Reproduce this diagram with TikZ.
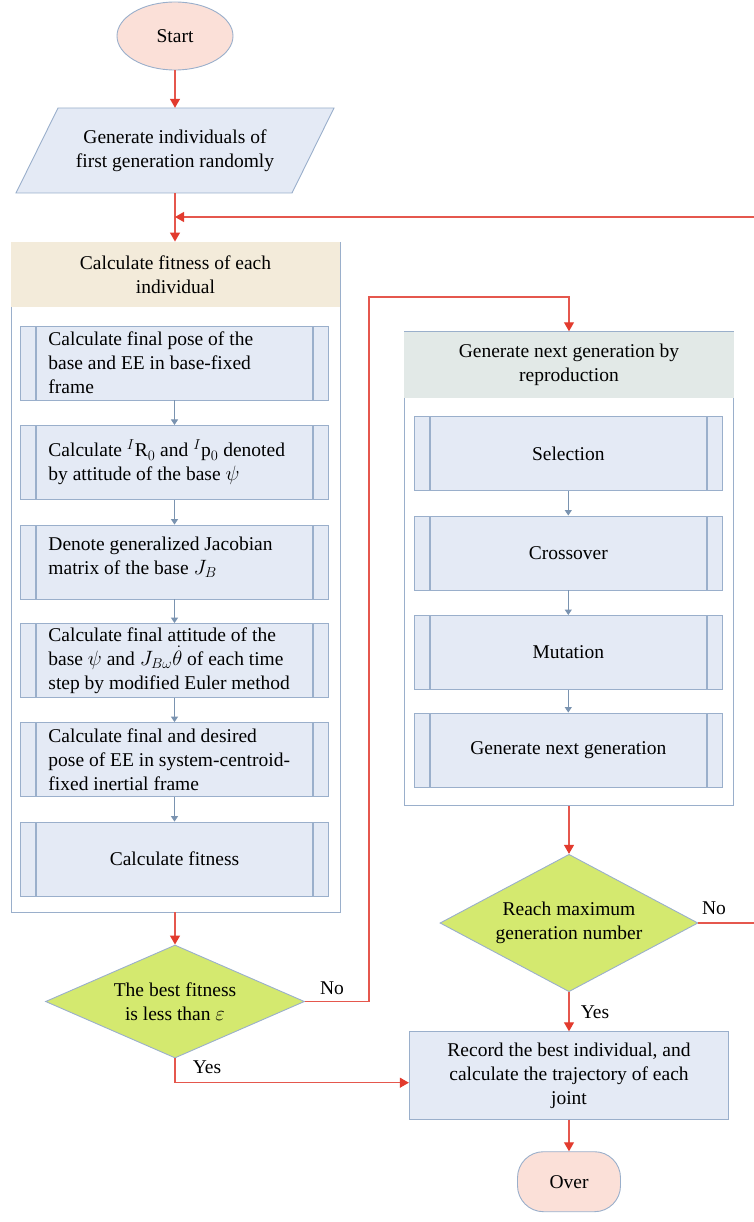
\documentclass[tikz,border=0pt]{standalone}
\usepackage{fontspec}
\setmainfont{Liberation Serif}
\usetikzlibrary{shapes.geometric,arrows.meta,positioning,calc}
\definecolor{pinkfill}{HTML}{FBE0D8}
\definecolor{bluefill}{HTML}{E4EAF5}
\definecolor{bordc}{HTML}{9AAFCB}
\definecolor{beige}{HTML}{F3EBDA}
\definecolor{grayhead}{HTML}{E2E9E7}
\definecolor{greenfill}{HTML}{D4E96F}
\definecolor{redc}{HTML}{E23B2E}
\definecolor{redl}{HTML}{E5574D}
\definecolor{grayarr}{HTML}{7A93B0}
\begin{document}
\begin{tikzpicture}[x=1pt,y=-1pt,
  every node/.style={font=\fontsize{19.5}{24}\selectfont},
  base/.style={draw=bordc, line width=0.9pt},
  startend/.style={base, ellipse, fill=pinkfill, minimum width=116pt, minimum height=68pt, inner sep=0pt},
  overbox/.style={base, rounded corners=26pt, fill=pinkfill, minimum width=103pt, minimum height=60pt, inner sep=0pt},
  iotext/.style={minimum width=276pt, minimum height=85pt, inner sep=0pt, align=center},
  procbox/.style={base, fill=bluefill, align=center, inner sep=0pt},
  container/.style={base, fill=white, inner sep=0pt},
  header/.style={inner sep=0pt, align=center},
  subbox/.style={base, fill=bluefill, minimum width=307.6pt, minimum height=74pt, inner sep=0pt,
    path picture={
      \draw[bordc, line width=1.4pt] ([xshift=15.3pt]path picture bounding box.north west) -- ([xshift=15.3pt]path picture bounding box.south west);
      \draw[bordc, line width=1.4pt] ([xshift=-15.3pt]path picture bounding box.north east) -- ([xshift=-15.3pt]path picture bounding box.south east);
    }},
  subtext/.style={align=left, inner sep=0pt, anchor=west},
  decision/.style={base, diamond, fill=greenfill, inner sep=0pt, align=center},
  redarrow/.style={draw=redl, line width=1.2pt, -{Triangle[length=9pt,width=10pt,color=redc]}},
  redline/.style={draw=redl, line width=1.2pt},
  grayarrow/.style={draw=grayarr, line width=1pt, -{Triangle[length=5.5pt,width=7pt]}},
  lab/.style={inner sep=0pt}
]
\useasboundingbox (0,0) rectangle (754,1222);

% Start
\node[startend] (start) at (175,36) {Start};
% Parallelogram
\draw[base, fill=bluefill] (58,108) -- (334,108) -- (292,193) -- (16,193) -- cycle;
\node[iotext] (para) at (175,150.5) {Generate individuals of\\first generation randomly};

% Left container
\node[container, minimum width=329pt, minimum height=670pt] (c1) at (175.5,577) {};
\fill[beige] ([shift={(0.45pt,-0.45pt)}]c1.north west) rectangle ([shift={(-0.45pt,-65pt)}]c1.north east);
\node[header] (h1) at (175.5,274.5) {Calculate fitness of each\\individual};

\node[subbox] (b1) at (174.5,363) {};
\node[subtext] (t1) at ([xshift=28pt]b1.west) {Calculate final pose of the\\base and EE in base-fixed\\frame};
\node[subbox] (b2) at (174.5,462.4) {};
\node[subtext] (t2) at ([xshift=28pt]b2.west) {Calculate $^{I}$R$_0$ and $^{I}$p$_0$ denoted\\by attitude of the base $\psi$};
\node[subbox] (b3) at (174.5,562) {};
\node[subtext] (t3) at ([xshift=28pt,yshift=5pt]b3.west) {Denote generalized Jacobian\\matrix of the base $J_B$};
\node[subbox] (b4) at (174.5,660.5) {};
\node[subtext] (t4) at ([xshift=28pt]b4.west) {Calculate final attitude of the\\base $\psi$ and $J_{B\omega}\dot{\theta}$ of each time\\step by modified Euler method};
\node[subbox] (b5) at (174.5,759.5) {};
\node[subtext] (t5) at ([xshift=28pt]b5.west) {Calculate final and desired\\pose of EE in system-centroid-\\fixed inertial frame};
\node[subbox] (b6) at (174.5,859) {Calculate fitness};

% Decision 1
\node[decision, aspect=2.29, minimum width=259pt, minimum height=113pt] (d1) at (175,1001.5) {The best fitness\\is less than $\varepsilon$};

% Right container
\node[container, minimum width=329.4pt, minimum height=474pt] (c2) at (569,568.7) {};
\fill[grayhead] ([shift={(0.45pt,-0.45pt)}]c2.north west) rectangle ([shift={(-0.45pt,-66.6pt)}]c2.north east);
\node[header] (h2) at (569,365) {Generate next generation by\\reproduction};

\node[subbox] (s1) at (568.3,453.7) {Selection};
\node[subbox] (s2) at (568.3,553) {Crossover};
\node[subbox] (s3) at (568.3,652.5) {Mutation};
\node[subbox] (s4) at (568.3,750) {Generate next generation};

% Decision 2
\node[decision, aspect=1.88, minimum width=258pt, minimum height=137.4pt] (d2) at (569,923) {Reach maximum\\generation number};

% Record box
\node[procbox, minimum width=319.4pt, minimum height=87.3pt] (rec) at (569,1075.4) {Record the best individual, and\\calculate the trajectory of each\\joint};

% Over
\node[overbox] (over) at (569,1181.7) {Over};

% Labels
\node[lab] (no1) at (332,988) {No};
\node[lab] (yes1) at (207,1067) {Yes};
\node[lab] (no2) at (714,908) {No};
\node[lab] (yes2) at (595,1012) {Yes};

% Coordinates for loop
\coordinate (loopin) at (754,217);
\coordinate (loopout) at (754,923);
\coordinate (nocorner) at (369,297);

% Connectors
\draw[redarrow] (start) -- (para.north);
\draw[redarrow] (para.south) -- (c1.north -| para);
\draw[redarrow] (loopin) -- (loopin -| para);
\draw[redline] (d2.east) -- (loopout);

\draw[grayarrow] (b1) -- (b2);
\draw[grayarrow] (b2) -- (b3);
\draw[grayarrow] (b3) -- (b4);
\draw[grayarrow] (b4) -- (b5);
\draw[grayarrow] (b5) -- (b6);

\draw[grayarrow] (s1) -- (s2);
\draw[grayarrow] (s2) -- (s3);
\draw[grayarrow] (s3) -- (s4);

\draw[redarrow] (c1.south -| d1) -- (d1.north);
\draw[redarrow] (d1.east) -| (nocorner) -| (c2.north);
\draw[redarrow] (d1.south) |- ([yshift=-7.3pt]rec.west);
\draw[redarrow] (c2.south) -- (d2.north);
\draw[redarrow] (d2.south) -- (rec.north);
\draw[redarrow] (rec.south) -- (over.north);
\end{tikzpicture}
\end{document}
